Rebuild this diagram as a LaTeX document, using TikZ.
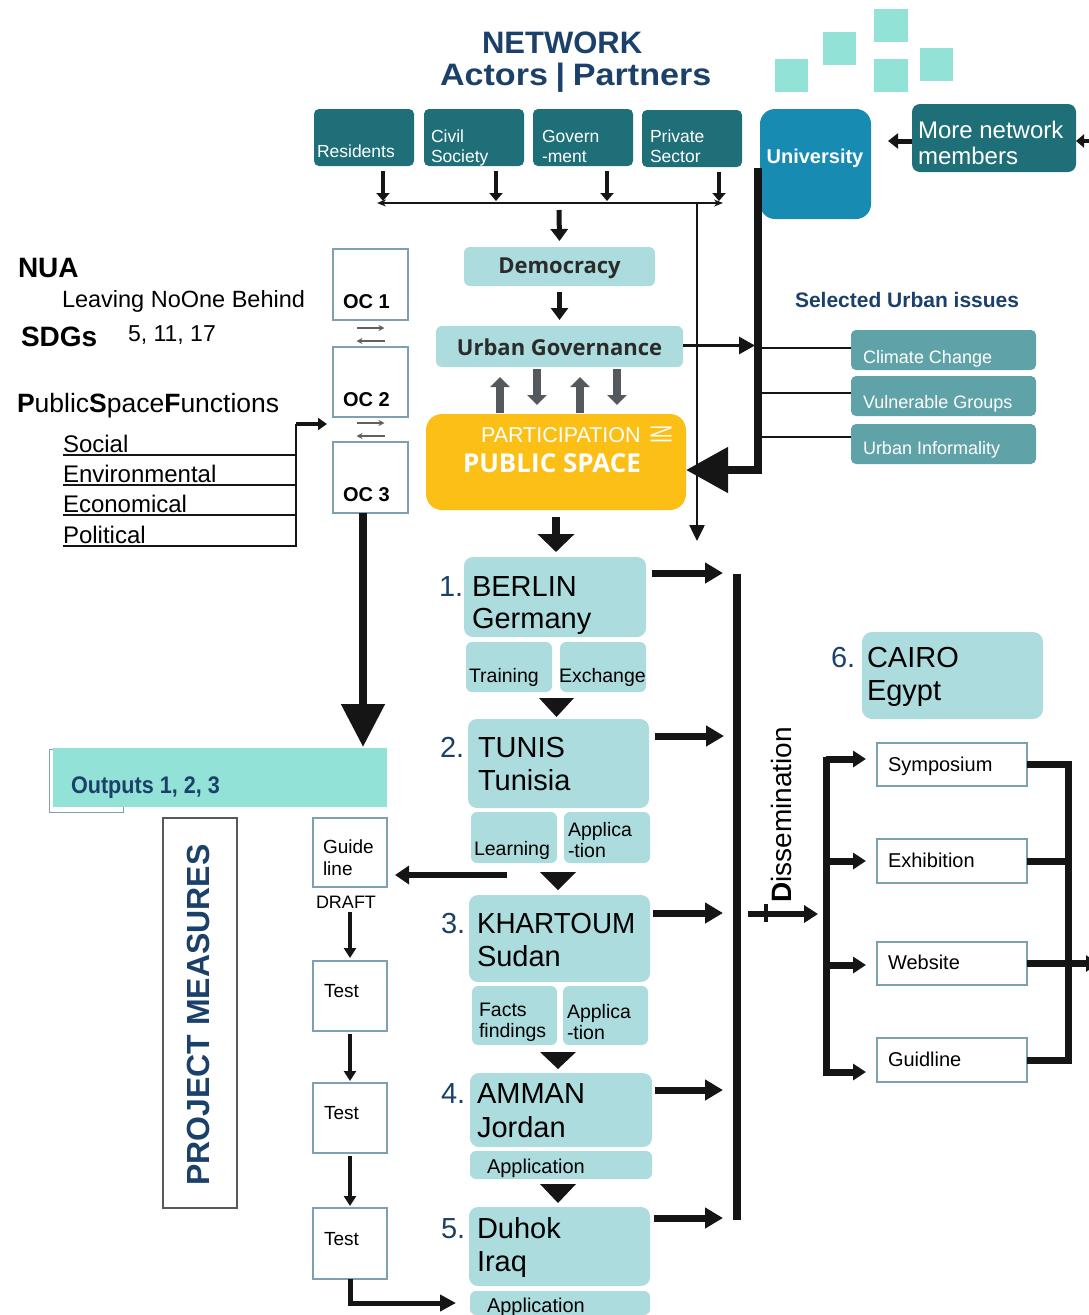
\documentclass[tikz,border=0pt]{standalone}
\usepackage{fontspec}
\setmainfont{Liberation Sans}
\newfontfamily\osans{Open Sans}
\usepackage{graphicx}
\usetikzlibrary{arrows.meta}
\definecolor{act}{HTML}{1F6F78}
\definecolor{univ}{HTML}{178BB1}
\definecolor{lt}{HTML}{ACDCDD}
\definecolor{iss}{HTML}{5FA3A8}
\definecolor{mint}{HTML}{93E2D8}
\definecolor{org}{HTML}{FCBF16}
\definecolor{navy}{HTML}{1B416A}
\definecolor{bord}{HTML}{7F9FB3}
\definecolor{garr}{HTML}{54595D}
\definecolor{dk}{HTML}{2B2B2B}
\definecolor{blk}{HTML}{151515}
\newcommand\fs[1]{\fontsize{#1}{#1}\selectfont}
\begin{document}
\begin{tikzpicture}[x=1pt,y=-1pt,
  box/.style={anchor=north west,inner sep=0pt,outer sep=0pt},
  txt/.style={anchor=base west,inner sep=0pt,outer sep=0pt},
  actorbox/.style={box,fill=act,rounded corners=5pt},
  ltbox/.style={box,fill=lt,rounded corners=9pt},
  subbox/.style={box,fill=lt,rounded corners=6pt},
  issbox/.style={box,fill=iss,rounded corners=5pt},
  ocbox/.style={box,draw=bord,line width=1.5pt,fill=white},
  wt/.style={txt,text=white},
  city/.style={txt,font=\fs{29}},
  num/.style={txt,font=\fs{29},text=navy},
  small/.style={txt,font=\fs{19.5}},
  ka/.style={draw=blk,line width=4.5pt,-{Triangle[length=8pt,width=13pt]}},
  ga/.style={draw=garr,line width=8pt,-{Triangle[length=10pt,width=19pt]}},
  oca/.style={draw=gray!75!black,line width=2pt,-{Stealth[length=6pt,width=6pt]}},
  ta/.style={draw=blk,line width=3.5pt,-{Triangle[length=10pt,width=12pt]}},
  carr/.style={draw=blk,line width=7pt,-{Triangle[length=18pt,width=20pt]}},
  barr/.style={draw=blk,line width=7pt,-{Triangle[length=13pt,width=16pt]}}]
\useasboundingbox (0,0) rectangle (1089,1315);

% decorative squares
\fill[mint] (775,59) rectangle (808,92);
\fill[mint] (823,32) rectangle (856,65);
\fill[mint] (874,9) rectangle (908,42);
\fill[mint] (874,59) rectangle (908,92);
\fill[mint] (920,48) rectangle (953,81);

% title
\node[txt,text=navy,font=\fs{31}\bfseries] (title1) at (482,53) {NETWORK};
\node[txt,text=navy,font=\fs{31}\bfseries] (title2) at (440,85) {\scalebox{1.1}[1]{Actors\hspace{7pt}|\hspace{7pt}Partners}};

% actors
\node[actorbox,minimum width=100pt,minimum height=57pt] (res) at (314,109) {};
\node[actorbox,minimum width=100pt,minimum height=57pt] (civ) at (424,109) {};
\node[actorbox,minimum width=100pt,minimum height=57pt] (gov) at (533,109) {};
\node[actorbox,minimum width=100pt,minimum height=57pt] (pri) at (642,110) {};
\node[wt,font=\fs{17.5}] (resT) at (317,157) {Residents};
\node[wt,font=\fs{17.5}] (civT1) at (431,142) {Civil};
\node[wt,font=\fs{17.5}] (civT2) at (431,162) {Society};
\node[wt,font=\fs{17.5}] (govT1) at (542,142) {Govern};
\node[wt,font=\fs{17.5}] (govT2) at (542,162) {-ment};
\node[wt,font=\fs{17.5}] (priT1) at (650,142) {Private};
\node[wt,font=\fs{17.5}] (priT2) at (650,162) {Sector};

% university bar (drawn before box)
\coordinate (ub) at (758,168);
\node[box,fill=univ,rounded corners=15pt,minimum width=111pt,minimum height=110pt] (uni) at (760,109) {};
\node[txt,anchor=base,text=white,font=\fs{20}\bfseries] (uniT) at (815,163) {University};
\node[actorbox,rounded corners=8pt,minimum width=164pt,minimum height=68pt] (more) at (912,104) {};
\node[wt,font=\fs{24}] (moreT1) at (918,138) {More network};
\node[wt,font=\fs{24}] (moreT2) at (918,164) {members};
\coordinate (ed) at (1094,141);
\draw[draw=blk,line width=4pt,-{Triangle[length=8pt,width=13pt]}] (ed) -- ([yshift=-3pt]more.east);
\draw[draw=blk,line width=5pt,-{Triangle[length=10pt,width=15pt]}] ([yshift=-3pt]more.west) -- ++(-24,0);

% actor arrows and collector line
\draw[ka] ([xshift=19pt,yshift=-5pt]res.south) -- ++(0,30);
\draw[ka] ([xshift=22pt,yshift=-5pt]civ.south) -- ++(0,30);
\draw[ka] ([xshift=24pt,yshift=-5pt]gov.south) -- ++(0,30);
\draw[ka] ([xshift=27pt,yshift=-5pt]pri.south) -- ++(0,29);
\coordinate (hL) at (377,203);
\coordinate (hR) at (723,203);
\draw[draw=blk,line width=1.8pt,{Stealth[length=9pt,width=7pt]}-{Stealth[length=9pt,width=7pt]}] (hL) -- (hR);
\coordinate (vT) at (697,203);
\coordinate (vB) at (697,541);
\draw[draw=blk,line width=2.5pt,-{Triangle[length=16pt,width=15pt]}] (vT) -- (vB);

% democracy / governance
\node[ltbox,rounded corners=6pt,minimum width=191pt,minimum height=39pt,text=dk,font=\osans\bfseries\fs{22}] (demo) at (464,247) {\raisebox{-2pt}[\height][\depth]{Democracy}};
\node[ltbox,rounded corners=6pt,minimum width=247pt,minimum height=41pt,text=dk,font=\osans\bfseries\fs{22}] (ug) at (436,326) {\raisebox{-1pt}[\height][\depth]{Urban Governance}};
\coordinate (dT) at (559,210);
\draw[draw=blk,line width=5pt,-{Triangle[length=12pt,width=17pt]}] (dT) -- ([yshift=6pt]demo.north);
\draw[draw=blk,line width=5pt,-{Triangle[length=12pt,width=17pt]}] ([yshift=-6pt]demo.south) -- ([yshift=6pt]ug.north);

% participation
\node[box,fill=org,rounded corners=16pt,minimum width=260pt,minimum height=96pt] (part) at (426,414) {};
\node[wt,font=\fs{21.5}] (partT) at (481,442) {PARTICIPATION};
\node[inner sep=0pt,text=white,rotate=90] (inT) at (661,434) {\resizebox{18pt}{21pt}{\fs{20}IN}};
\node[wt,font=\osans\bfseries\fs{26}] (psT) at (463,472) {PUBLIC SPACE};
\draw[ga] ([xshift=-22.5pt,yshift=-2pt]ug.south) -- ++(0,36);
\draw[ga] ([xshift=57.5pt,yshift=-2pt]ug.south) -- ++(0,36);
\draw[ga] ([xshift=-56pt,yshift=1pt]part.north) -- ++(0,-36);
\draw[ga] ([xshift=24pt,yshift=1pt]part.north) -- ++(0,-36);

% governance -> issues, university -> participation
\draw[draw=blk,line width=3pt,-{Triangle[length=16pt,width=17pt]}] ([yshift=1pt]ug.east) -- ++(72,0);
\draw[draw=blk,line width=8pt,-{Triangle[length=42pt,width=44pt]}] (ub) |- ([yshift=-8pt]part.east);

% selected urban issues
\node[txt,text=navy,font=\fs{21}\bfseries] (selT) at (795,307) {Selected Urban issues};
\node[issbox,minimum width=185pt,minimum height=40pt] (cc) at (851,330) {};
\node[issbox,minimum width=185pt,minimum height=40pt] (vg) at (851,376) {};
\node[issbox,minimum width=185pt,minimum height=40pt] (ui) at (851,424) {};
\node[wt,font=\fs{18}] (ccT) at (863,363) {Climate Change};
\node[wt,font=\fs{18}] (vgT) at (863,408) {Vulnerable Groups};
\node[wt,font=\fs{18}] (uiT) at (863,454) {Urban Informality};
\draw[draw=blk,line width=2.5pt] ([yshift=2pt]cc.west) -- ++(-93,0);
\draw[draw=blk,line width=2.5pt] ([yshift=3pt]vg.west) -- ++(-93,0);
\draw[draw=blk,line width=2.5pt] ([yshift=7pt]ui.west) -- ++(-93,0);

% left texts
\node[txt,font=\fs{28}\bfseries] (nua) at (18,277) {NUA};
\node[txt,font=\fs{23.5}] (lnb) at (62,307) {Leaving NoOne Behind};
\node[txt,font=\fs{28}\bfseries] (sdg) at (21,346) {SDGs};
\node[txt,font=\fs{23}] (sdgn) at (128,341) {5, 11, 17};
\node[txt,font=\fs{26.5}] (psf) at (17,412) {{\bfseries P}ublic{\bfseries S}pace{\bfseries F}unctions};
\node[txt,font=\fs{24}] (soc) at (63,452) {Social};
\node[txt,font=\fs{24}] (env) at (63,482) {Environmental};
\node[txt,font=\fs{24}] (eco) at (63,512) {Economical};
\node[txt,font=\fs{24}] (pol) at (63,543) {Political};
\coordinate (fc) at (296,424);
\draw[draw=blk,line width=2pt] ([yshift=-3pt]soc.base west) -- ++(233,0);
\draw[draw=blk,line width=2pt] ([yshift=-3pt]env.base west) -- ++(233,0);
\draw[draw=blk,line width=2pt] ([yshift=-3pt]eco.base west) -- ++(233,0);
\draw[draw=blk,line width=2pt] ([yshift=-3pt]pol.base west) -| (fc);
\draw[draw=blk,line width=4pt,-{Triangle[length=9pt,width=12pt]}] (fc) -- ++(31,0);

% OC boxes
\node[ocbox,minimum width=75pt,minimum height=71pt] (oc1) at (333,249) {};
\node[ocbox,minimum width=75pt,minimum height=70pt] (oc2) at (333,347) {};
\node[ocbox,minimum width=75pt,minimum height=71pt] (oc3) at (333,442) {};
\node[txt,font=\fs{20}\bfseries] (oc1T) at (343,308) {OC 1};
\node[txt,font=\fs{20}\bfseries] (oc2T) at (343,406) {OC 2};
\node[txt,font=\fs{20}\bfseries] (oc3T) at (343,501) {OC 3};
\draw[oca] ([xshift=-14pt,yshift=-8pt]oc1.south) -- ++(28,0);
\draw[oca] ([xshift=14pt,yshift=-21pt]oc1.south) -- ++(-28,0);
\draw[oca] ([xshift=-14pt,yshift=-6pt]oc2.south) -- ++(28,0);
\draw[oca] ([xshift=14pt,yshift=-19pt]oc2.south) -- ++(-28,0);

% outputs
\node[box,draw=bord,line width=1pt,fill=white,minimum width=74pt,minimum height=63pt] (lip) at (49,749) {};
\node[box,fill=mint,minimum width=334pt,minimum height=59pt] (outputs) at (53,748) {};
\node[txt,text=navy,font=\fs{24}\bfseries] (outT) at (71,793) {\scalebox{0.9}[1]{Outputs 1, 2, 3}};
\draw[draw=blk,line width=8pt,-{Triangle[length=43pt,width=42pt]}] ([xshift=-7.5pt]oc3.south) -- ++(0,234);

% project measures
\node[box,draw=gray!70!black,line width=1.5pt,minimum width=74pt,minimum height=390pt] (pm) at (163,818) {};
\node[inner sep=0pt,rotate=90,text=navy,font=\fs{32}\bfseries] (pmT) at (198,1015) {PROJECT MEASURES};

% guideline & tests
\node[ocbox,minimum width=74pt,minimum height=69pt] (gl) at (313,818) {};
\node[ocbox,minimum width=74pt,minimum height=70pt] (t1) at (313,961) {};
\node[ocbox,minimum width=74pt,minimum height=70pt] (t2) at (313,1083) {};
\node[ocbox,minimum width=74pt,minimum height=71pt] (t3) at (313,1208) {};
\node[txt,font=\fs{19}] (glT1) at (323,853) {Guide};
\node[txt,font=\fs{19}] (glT2) at (323,875) {line};
\node[txt,font=\fs{18}] (draft) at (316,908) {DRAFT};
\node[txt,font=\fs{19}] (t1T) at (324,997) {Test};
\node[txt,font=\fs{19}] (t2T) at (324,1119) {Test};
\node[txt,font=\fs{19}] (t3T) at (324,1245) {Test};
\draw[ta] ([yshift=-25pt]gl.south) -- ([yshift=3pt]t1.north);
\draw[ta] ([yshift=-3pt]t1.south) -- ([yshift=2pt]t2.north);
\draw[ta] ([yshift=-3pt]t2.south) -- ([yshift=2pt]t3.north);
\coordinate (gs) at (507,875);
\draw[draw=blk,line width=6pt,-{Triangle[length=14pt,width=18pt]},shorten >=8pt] (gs) -- (gl.east |- gs);

% cities
\node[ltbox,minimum width=182pt,minimum height=80pt] (berlin) at (464,557) {};
\node[subbox,minimum width=86pt,minimum height=50pt] (train) at (466,642) {};
\node[subbox,minimum width=86pt,minimum height=50pt] (exch) at (560,642) {};
\node[ltbox,minimum width=181pt,minimum height=89pt] (tunis) at (468,719) {};
\node[subbox,minimum width=86pt,minimum height=51pt] (learn) at (471,812) {};
\node[subbox,minimum width=86pt,minimum height=51pt] (appl1) at (564,812) {};
\node[ltbox,minimum width=181pt,minimum height=87pt] (khart) at (469,895) {};
\node[subbox,minimum width=85pt,minimum height=59pt] (facts) at (472,986) {};
\node[subbox,minimum width=85pt,minimum height=59pt] (appl2) at (563,986) {};
\node[ltbox,minimum width=182pt,minimum height=74pt] (amman) at (470,1073) {};
\node[subbox,minimum width=182pt,minimum height=28pt] (applA) at (470,1151) {};
\node[ltbox,minimum width=181pt,minimum height=79pt] (duhok) at (469,1207) {};
\node[subbox,minimum width=180pt,minimum height=24pt] (applD) at (470,1291) {};
\node[ltbox,rounded corners=10pt,minimum width=181pt,minimum height=87pt] (cairo) at (862,632) {};

\node[num] (n1) at (439,596) {1.};
\node[city] (berT1) at (472,596) {BERLIN};
\node[city] (berT2) at (472,628) {Germany};
\node[num] (n2) at (440,757) {2.};
\node[city] (tunT1) at (478,757) {TUNIS};
\node[city] (tunT2) at (478,790) {Tunisia};
\node[num] (n3) at (441,933) {3.};
\node[city] (khaT1) at (477,933) {\scalebox{0.96}[1]{KHARTOUM}};
\node[city] (khaT2) at (477,966) {Sudan};
\node[num] (n4) at (441,1103) {4.};
\node[city] (amT1) at (477,1103) {AMMAN};
\node[city] (amT2) at (477,1137) {Jordan};
\node[num] (n5) at (441,1238) {5.};
\node[city] (duT1) at (477,1238) {Duhok};
\node[city] (duT2) at (477,1271) {Iraq};
\node[num] (n6) at (831,667) {6.};
\node[city] (caT1) at (867,667) {CAIRO};
\node[city] (caT2) at (867,700) {Egypt};

\node[small] (trT) at (469,682) {Training};
\node[small] (exT) at (559,682) {Exchange};
\node[small] (leT) at (474,855) {Learning};
\node[small] (a1T1) at (568,836) {Applica};
\node[small] (a1T2) at (568,857) {-tion};
\node[small] (faT1) at (479,1016) {Facts};
\node[small] (faT2) at (479,1037) {findings};
\node[small] (a2T1) at (567,1018) {Applica};
\node[small] (a2T2) at (567,1039) {-tion};
\node[small,font=\fs{20}] (aaT) at (487,1173) {Application};
\node[small,font=\fs{20}] (adT) at (487,1312) {Application};

% flow triangles between cities
\fill[blk] (539,698) -- (574,698) -- (556.5,717) -- cycle;
\fill[blk] (540,872) -- (576,872) -- (558,890) -- cycle;
\fill[blk] (540,1052) -- (576,1052) -- (558,1069) -- cycle;
\fill[blk] (540,1184) -- (576,1184) -- (558,1203) -- cycle;

% participation -> berlin
\draw[draw=blk,line width=8pt,-{Triangle[length=18pt,width=36pt]}] ([yshift=-7pt]part.south) -- ++(0,35);

% test -> Duhok application
\draw[draw=blk,line width=5pt,-{Triangle[length=16pt,width=16pt]},shorten >=14pt] (t3.south) |- (applD.west);

% dissemination bar
\node[box,fill=blk,minimum width=8pt,minimum height=646pt] (dbar) at (733,574) {};
\draw[carr] ([shift={(6,16)}]berlin.north east) -- ++(71,0);
\draw[carr] ([shift={(6,17)}]tunis.north east) -- ++(69,0);
\draw[carr] ([shift={(3,18)}]khart.north east) -- ++(70,0);
\draw[carr] ([shift={(3,17)}]amman.north east) -- ++(68,0);
\draw[carr] ([shift={(4,11)}]duhok.north east) -- ++(69,0);
\node[inner sep=0pt,rotate=90,anchor=base west,font=\fs{28}] (disT) at (791,903) {{\bfseries D}issemination};
\draw[draw=blk,line width=4pt] (766,904) -- (766,922);
\draw[draw=blk,line width=6pt,-{Triangle[length=14pt,width=17pt]}] ([shift={(7,17)}]dbar.east) -- ++(70,0);

% dissemination outputs
\node[ocbox,minimum width=150pt,minimum height=43pt] (sym) at (877,743) {};
\node[ocbox,minimum width=150pt,minimum height=44pt] (exh) at (877,839) {};
\node[ocbox,minimum width=150pt,minimum height=43pt] (web) at (877,942) {};
\node[ocbox,minimum width=150pt,minimum height=44pt] (gdl) at (877,1038) {};
\node[txt,font=\fs{20}] (symT) at (888,771) {Symposium};
\node[txt,font=\fs{20}] (exhT) at (888,867) {Exhibition};
\node[txt,font=\fs{20}] (webT) at (888,969) {Website};
\node[txt,font=\fs{20}] (gdlT) at (888,1066) {Guidline};

\draw[draw=blk,line width=7pt] (826,757) -- (826,1076);
\coordinate (b1) at (826,759);
\coordinate (b2) at (826,861);
\coordinate (b3) at (826,965);
\coordinate (b4) at (826,1072);
\draw[barr,shorten >=11pt] (b1) -- (b1 -| sym.west);
\draw[barr,shorten >=11pt] (b2) -- (b2 -| exh.west);
\draw[barr,shorten >=11pt] (b3) -- (b3 -| web.west);
\draw[barr,shorten >=11pt] (b4) -- (b4 -| gdl.west);

\coordinate (rk) at (1068,0);
\draw[draw=blk,line width=7pt] (sym.east) -| (rk |- gdl.east) -- (gdl.east);
\draw[draw=blk,line width=7pt] (exh.east) -- (exh.east -| rk);
\draw[draw=blk,line width=7pt] (web.east) -- (web.east -| rk);
\coordinate (ed2) at (1098,0);
\draw[draw=blk,line width=7pt,-{Triangle[length=12pt,width=16pt]}] (web.east -| rk) -- (web.east -| ed2);
\end{tikzpicture}
\end{document}
